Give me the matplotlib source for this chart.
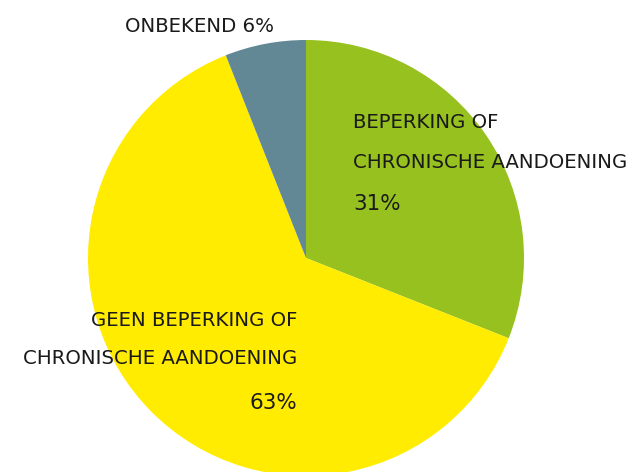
import matplotlib
matplotlib.use('Agg')
import matplotlib.pyplot as plt

# slice data, clockwise from the top
labels = ['BEPERKING OF CHRONISCHE AANDOENING', 'GEEN BEPERKING OF CHRONISCHE AANDOENING', 'ONBEKEND']
shares = [31, 63, 6]
colors = ['#97c11f', '#ffec00', '#628896']

plt.rcParams['font.family'] = ['DejaVu Sans']

fig = plt.figure(figsize=(6.29, 4.72), dpi=100)
ax = fig.add_axes([0, 0, 1, 1])

ax.pie(shares, colors=colors, startangle=90, counterclock=False,
       center=(306, 214), radius=218, frame=True,
       wedgeprops=dict(linewidth=0))
ax.set_xlim(0, 629)
ax.set_ylim(0, 472)
ax.axis('off')

txt = dict(color='#1a1a1a', fontsize=14.2, va='center')
big = dict(color='#1a1a1a', fontsize=15.5, va='center')
ax.text(125, 446, 'ONBEKEND %d%%' % shares[2], ha='left', **txt)
ax.text(353, 349, 'BEPERKING OF', ha='left', **txt)
ax.text(353, 310, 'CHRONISCHE AANDOENING', ha='left', **txt)
ax.text(353, 268, '%d%%' % shares[0], ha='left', **big)
ax.text(297, 152, 'GEEN BEPERKING OF', ha='right', **txt)
ax.text(297, 114, 'CHRONISCHE AANDOENING', ha='right', **txt)
ax.text(297, 69, '%d%%' % shares[1], ha='right', **big)

fig.savefig('out.png', dpi=100)
